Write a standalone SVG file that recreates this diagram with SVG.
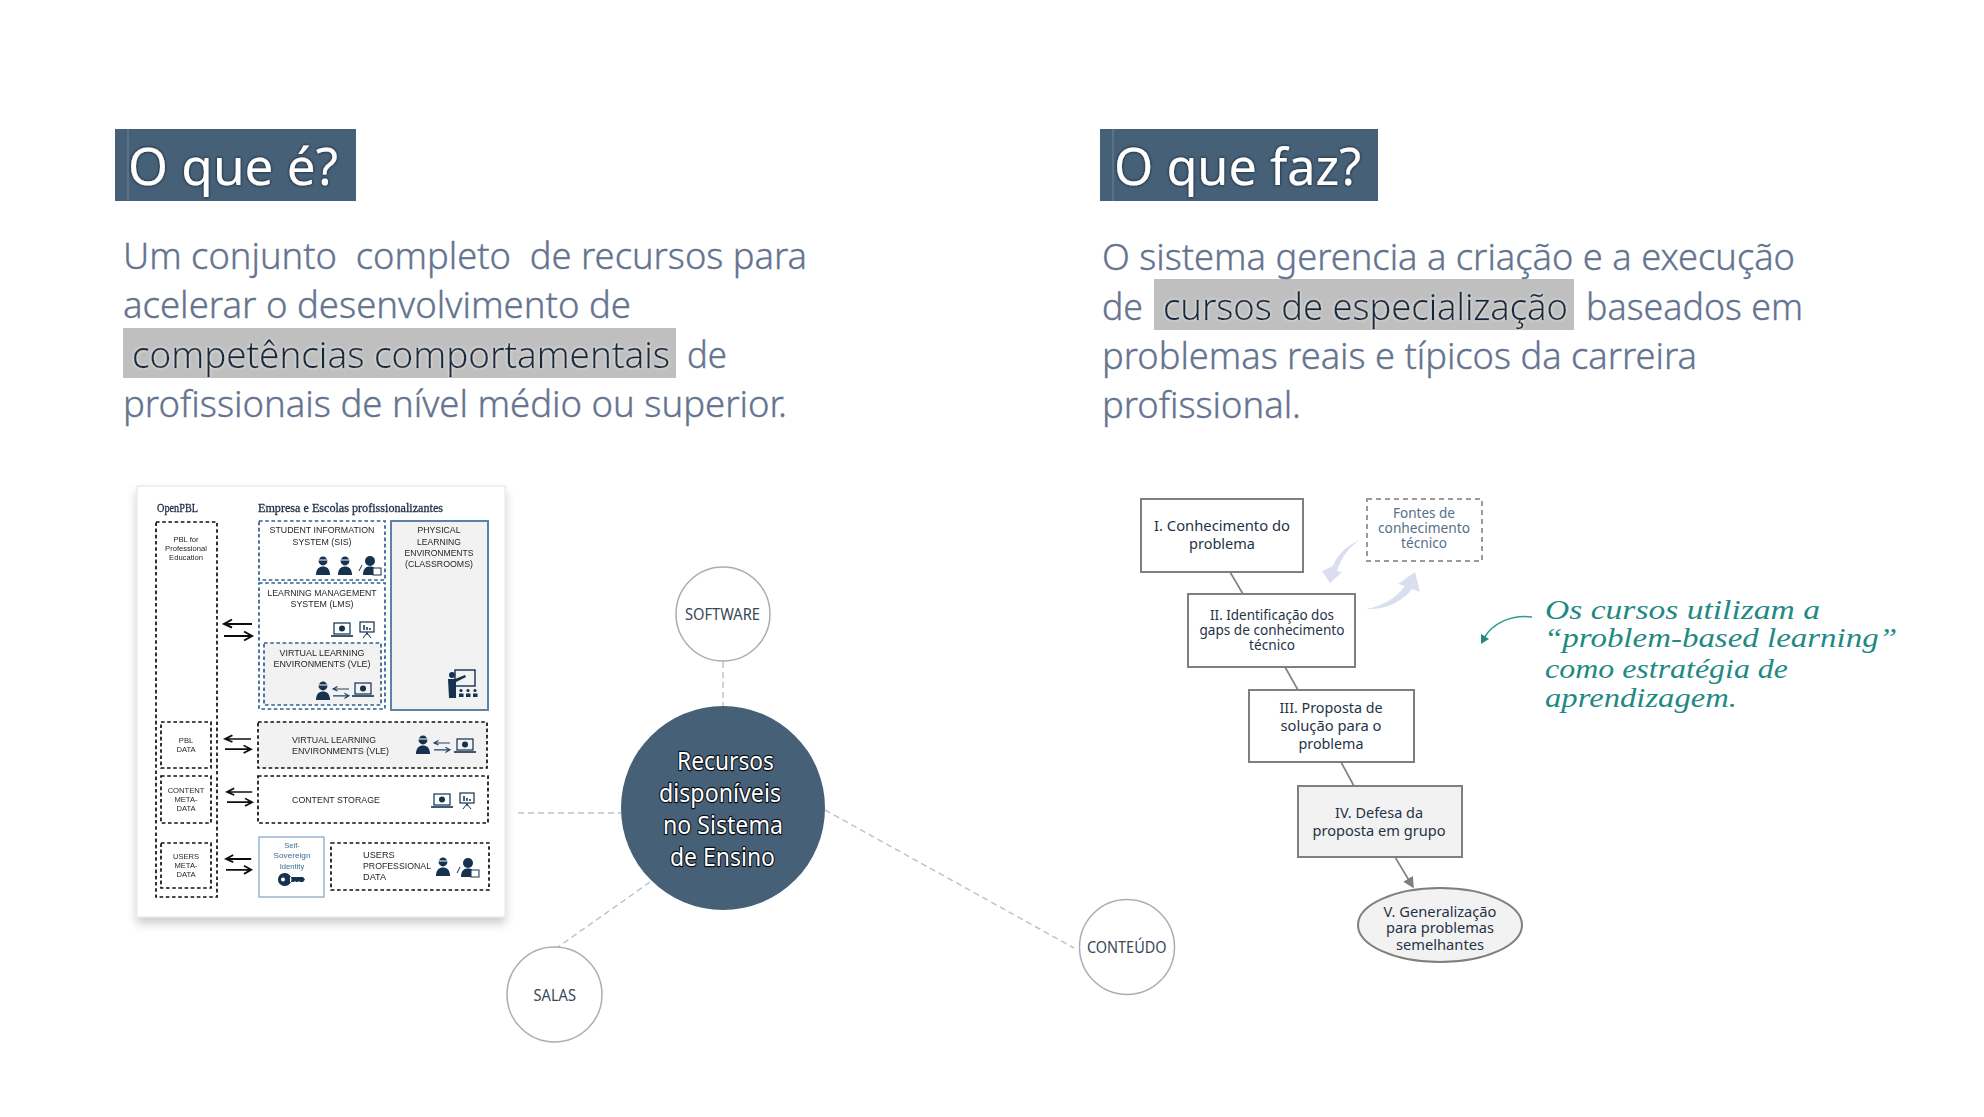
<svg xmlns="http://www.w3.org/2000/svg" xmlns:xlink="http://www.w3.org/1999/xlink" width="1984" height="1117" viewBox="0 0 1984 1117">
<style>
text{font-family:"Noto Sans","Open Sans","Liberation Sans",sans-serif}
.title{font-size:51px;fill:#fff;filter:url(#darkGlow)}
.body{font-size:36px;fill:#64738f;font-weight:300;stroke:#64738f;stroke-width:.35px}
.hl{font-size:36px;fill:#12293f;font-weight:300;filter:url(#lightGlow);stroke:#12293f;stroke-width:.3px}
.band{fill:#466078}
.tick{stroke:#6f8499;stroke-width:1;fill:none}
.mark{fill:#bfbfbf}
.sm{font-family:"Liberation Sans",Arial,sans-serif;font-size:9.2px;fill:#262626}
.xs{font-family:"Liberation Sans",Arial,sans-serif;font-size:7.6px;fill:#262626}
.serif{font-family:"Liberation Serif",serif;font-size:12px;fill:#1c2c44;stroke:#1c2c44;stroke-width:.3px}
.dk{fill:none;stroke:#111;stroke-width:1.7;stroke-dasharray:3.6 2.6}
.dkg{fill:#f2f2f2;stroke:#111;stroke-width:1.7;stroke-dasharray:3.6 2.6}
.bl{fill:none;stroke:#2f6190;stroke-width:1.7;stroke-dasharray:3.6 2.6}
.blg{fill:#f2f2f2;stroke:#2f6190;stroke-width:1.7;stroke-dasharray:3.6 2.6}
.ic{fill:#12304f}
.ico{fill:none;stroke:#12304f;stroke-width:1.2}
.sw{fill:none;stroke:#111;stroke-width:2}
.swb{fill:none;stroke:#1f4468;stroke-width:2}
.ring{fill:#fff;stroke:#a9aeb6;stroke-width:1.5}
.rl{font-size:15.5px;fill:#3a4757}
.mid{font-size:25.5px;fill:#fff;stroke:#0c1218;stroke-width:2.4px;paint-order:stroke;stroke-linejoin:round}
.dash{stroke:#bcc4cc;stroke-width:1.5;stroke-dasharray:6 4;fill:none}
.box{fill:#fff;stroke:#7f7f7f;stroke-width:2}
.boxg{fill:#f2f2f2;stroke:#7f7f7f;stroke-width:2}
.st{font-size:15px;fill:#1f3346}
.cn{stroke:#7f7f7f;stroke-width:1.6;fill:none}
.fc{font-size:15px;fill:#586f86}
.soft{fill:#d9dff0}
.note{font-family:"Liberation Serif",serif;font-style:italic;font-size:27px;fill:#1f8a83}
</style>
<defs>
<filter id="darkGlow" x="-10%" y="-20%" width="120%" height="140%"><feDropShadow dx="0" dy="0" stdDeviation="1.6" flood-color="#0a1724" flood-opacity="1"/></filter>
<filter id="lightGlow" x="-5%" y="-20%" width="110%" height="140%"><feDropShadow dx="0" dy="0" stdDeviation="1.4" flood-color="#ffffff" flood-opacity=".8"/></filter>
<filter id="cardShadow" x="-10%" y="-10%" width="120%" height="120%"><feDropShadow dx="0" dy="6" stdDeviation="5" flood-color="#000" flood-opacity=".2"/></filter>
<filter id="soften" x="-2%" y="-2%" width="104%" height="104%"><feGaussianBlur stdDeviation=".45"/></filter>
<marker id="gh" markerWidth="7" markerHeight="7" refX="6" refY="3.5" orient="auto"><path d="M0,0 L7,3.5 L0,7Z" fill="#7f7f7f"/></marker>
<g id="person"><circle cx="0" cy="-5" r="4.4" class="ic"/><path d="M-4.2,-6 H4.2" stroke="#fff" stroke-width="1"/><path d="M-7,9 C-7,2.5 -3.5,0.5 0,0.5 C3.5,0.5 7,2.5 7,9Z" class="ic"/></g>
<g id="teach"><circle cx="0" cy="-5" r="5" class="ic"/><path d="M-7,9 C-7,2 -3.5,0.5 0,0.5 C3.5,0.5 6,2 7,9Z" class="ic"/><path d="M-8,-1 L-11,5" stroke="#12304f" stroke-width="1"/><rect x="3" y="2" width="8" height="7" fill="#fff" stroke="#12304f"/></g>
<g id="laptop"><rect x="-8" y="-7" width="16" height="11" class="ico"/><circle cx="0" cy="-1.5" r="3" class="ic"/><path d="M-11,6 H11" stroke="#12304f" stroke-width="1.6"/></g>
<g id="pres"><rect x="-7" y="-7" width="14" height="10" class="ico"/><path d="M-3,1 V-4 M0,1 V-2 M3,1 V-1" stroke="#12304f" stroke-width="1.5"/><path d="M0,3 V6 M0,4 L-4,9 M0,4 L4,9" stroke="#12304f" stroke-width="1"/></g>
<g id="swap"><path d="M28,0 H0 M8,-4.5 L0,0 L8,3.5 M0,12 H28 M20,7.5 L28,12 L20,16.5"/></g>
</defs>
<rect width="1984" height="1117" fill="#fff"/>

<g id="title-what">
<rect class="band" x="115" y="129" width="241" height="72"/>
<path class="tick" d="M128,129 V201"/>
<text class="title" x="128" y="185" textLength="210" lengthAdjust="spacingAndGlyphs">O que é?</text>
</g>
<g id="text-what">
<rect class="mark" x="123" y="328" width="553" height="50"/>
<text class="body" x="123" y="269" textLength="684" lengthAdjust="spacingAndGlyphs" xml:space="preserve">Um conjunto  completo  de recursos para</text>
<text class="body" x="123" y="318" textLength="508" lengthAdjust="spacingAndGlyphs">acelerar o desenvolvimento de</text>
<text class="hl" x="132" y="368" textLength="538" lengthAdjust="spacingAndGlyphs">competências comportamentais</text>
<text class="body" x="687" y="368" textLength="40" lengthAdjust="spacingAndGlyphs">de</text>
<text class="body" x="123" y="417" textLength="664" lengthAdjust="spacingAndGlyphs">profissionais de nível médio ou superior.</text>
</g>
<g id="title-does">
<rect class="band" x="1100" y="129" width="278" height="72"/>
<path class="tick" d="M1113,129 V201"/>
<text class="title" x="1114" y="185" textLength="247" lengthAdjust="spacingAndGlyphs">O que faz?</text>
</g>
<g id="text-does">
<rect class="mark" x="1154" y="279" width="420" height="51"/>
<text class="body" x="1102" y="270" textLength="693" lengthAdjust="spacingAndGlyphs">O sistema gerencia a criação e a execução</text>
<text class="body" x="1102" y="320" textLength="41" lengthAdjust="spacingAndGlyphs">de</text>
<text class="hl" x="1163" y="320" textLength="405" lengthAdjust="spacingAndGlyphs">cursos de especialização</text>
<text class="body" x="1586" y="320" textLength="217" lengthAdjust="spacingAndGlyphs">baseados em</text>
<text class="body" x="1102" y="369" textLength="595" lengthAdjust="spacingAndGlyphs">problemas reais e típicos da carreira</text>
<text class="body" x="1102" y="418" textLength="199" lengthAdjust="spacingAndGlyphs">profissional.</text>
</g>

<g id="connectors">
<path class="dash" d="M723,662 V707"/>
<path class="dash" d="M518,813 H621"/>
<path class="dash" d="M825,810 L1074,948"/>
<path class="dash" d="M650,882 L558,947"/>
<path class="cn" d="M1230,572 L1243,594"/>
<path class="cn" d="M1285,667 L1298,690"/>
<path class="cn" d="M1341,762 L1354,786"/>
<path class="cn" d="M1395,857 L1413,887" marker-end="url(#gh)"/>
<path class="soft" d="M1360,540 C1348,545 1338,553 1333,566 L1322,571 L1330,583 L1342,572 L1337,571 C1341,558 1349,547 1360,540Z"/>
<path class="soft" d="M1366,609 C1383,606 1396,598 1405,586 L1398,584 L1415,572 L1420,592 L1412,589 C1402,602 1385,610 1366,609Z"/>
<path d="M1532,617 C1511,614 1492,624 1484,638" fill="none" stroke="#2f9a93" stroke-width="1.6"/>
<path d="M1481,644 L1481,634 L1489,639Z" fill="#1f8a83"/>
</g>

<g id="card">
<rect x="137" y="486" width="368" height="431" fill="#fff" stroke="#e2e2e2" stroke-width="1" filter="url(#cardShadow)"/>
<g filter="url(#soften)">
<text class="serif" x="157" y="512" textLength="41" lengthAdjust="spacingAndGlyphs">OpenPBL</text>
<text class="serif" x="258" y="512" textLength="185" lengthAdjust="spacingAndGlyphs">Empresa e Escolas profissionalizantes</text>

<g id="pbl-edu"><rect class="dk" x="156" y="522" width="61" height="375"/>
<text class="xs" text-anchor="middle" x="186" y="542">PBL for</text><text class="xs" text-anchor="middle" x="186" y="551">Professional</text><text class="xs" text-anchor="middle" x="186" y="560">Education</text></g>

<g id="sis"><rect class="bl" x="259" y="521" width="126" height="59"/>
<text class="sm" text-anchor="middle" x="322" y="533" textLength="105" lengthAdjust="spacingAndGlyphs">STUDENT INFORMATION</text>
<text class="sm" text-anchor="middle" x="322" y="545" textLength="59" lengthAdjust="spacingAndGlyphs">SYSTEM (SIS)</text>
<use href="#person" transform="translate(323,566)"/><use href="#person" transform="translate(345,566)"/><use href="#teach" transform="translate(370,566)"/></g>

<g id="lms"><rect class="bl" x="259" y="583" width="126" height="126"/>
<text class="sm" text-anchor="middle" x="322" y="596" textLength="109" lengthAdjust="spacingAndGlyphs">LEARNING MANAGEMENT</text>
<text class="sm" text-anchor="middle" x="322" y="607" textLength="63" lengthAdjust="spacingAndGlyphs">SYSTEM (LMS)</text>
<use href="#laptop" transform="translate(342,630)"/><use href="#pres" transform="translate(367,629)"/></g>

<g id="vle"><rect class="blg" x="264" y="643" width="117" height="62"/>
<text class="sm" text-anchor="middle" x="322" y="656" textLength="85" lengthAdjust="spacingAndGlyphs">VIRTUAL LEARNING</text>
<text class="sm" text-anchor="middle" x="322" y="667" textLength="97" lengthAdjust="spacingAndGlyphs">ENVIRONMENTS (VLE)</text>
<use href="#person" transform="translate(323,691)"/><use href="#swap" class="swb" transform="translate(333,689) scale(.57)"/><use href="#laptop" transform="translate(363,690)"/></g>

<g id="classrooms"><rect x="391" y="521" width="97" height="189" fill="#f2f2f2" stroke="#5b82a8" stroke-width="2"/>
<text class="sm" text-anchor="middle" x="439" y="533" textLength="43" lengthAdjust="spacingAndGlyphs">PHYSICAL</text>
<text class="sm" text-anchor="middle" x="439" y="544.5" textLength="44" lengthAdjust="spacingAndGlyphs">LEARNING</text>
<text class="sm" text-anchor="middle" x="439" y="556" textLength="69" lengthAdjust="spacingAndGlyphs">ENVIRONMENTS</text>
<text class="sm" text-anchor="middle" x="439" y="567" textLength="68" lengthAdjust="spacingAndGlyphs">(CLASSROOMS)</text>
<rect x="455" y="670" width="20" height="16" class="ico" style="stroke-width:1.4"/>
<circle cx="452" cy="675" r="3" class="ic"/><path d="M448,679 H455 L465,675 L466,677 L456,682 V698 H449Z" class="ic"/>
<circle cx="461" cy="690.5" r="1.6" class="ic"/><circle cx="468" cy="690.5" r="1.6" class="ic"/><circle cx="475" cy="690.5" r="1.6" class="ic"/>
<path d="M459,697 V693.5 H463.5 V697Z M466,697 V693.5 H470.5 V697Z M473,697 V693.5 H477.5 V697Z" class="ic"/></g>

<use href="#swap" class="sw" transform="translate(224,624)"/>

<g id="pbl-data"><rect class="dk" x="161" y="722" width="50" height="46"/>
<text class="xs" text-anchor="middle" x="186" y="743">PBL</text><text class="xs" text-anchor="middle" x="186" y="752">DATA</text></g>
<use href="#swap" class="sw" transform="translate(225,739) scale(.93,.85)"/>
<g id="vle-row"><rect class="dkg" x="258" y="722" width="229" height="46"/>
<text class="sm" x="292" y="743" textLength="84" lengthAdjust="spacingAndGlyphs">VIRTUAL LEARNING</text>
<text class="sm" x="292" y="754" textLength="97" lengthAdjust="spacingAndGlyphs">ENVIRONMENTS (VLE)</text>
<use href="#person" transform="translate(423,745)"/><use href="#swap" class="swb" transform="translate(434,743) scale(.57)"/><use href="#laptop" transform="translate(465,746)"/></g>

<g id="content-meta"><rect class="dk" x="161" y="776" width="50" height="47"/>
<text class="xs" text-anchor="middle" x="186" y="793">CONTENT</text><text class="xs" text-anchor="middle" x="186" y="802">META-</text><text class="xs" text-anchor="middle" x="186" y="811">DATA</text></g>
<use href="#swap" class="sw" transform="translate(227,792) scale(.9,.85)"/>
<g id="content-storage"><rect class="dk" x="258" y="776" width="230" height="47"/>
<text class="sm" x="292" y="803" textLength="88" lengthAdjust="spacingAndGlyphs">CONTENT STORAGE</text>
<use href="#laptop" transform="translate(442,801)"/><use href="#pres" transform="translate(467,800)"/></g>

<g id="users-meta"><rect class="dk" x="161" y="843" width="50" height="45"/>
<text class="xs" text-anchor="middle" x="186" y="859">USERS</text><text class="xs" text-anchor="middle" x="186" y="868">META-</text><text class="xs" text-anchor="middle" x="186" y="877">DATA</text></g>
<use href="#swap" class="sw" transform="translate(226,859) scale(.9,.9)"/>
<g id="ssi"><rect x="259" y="837" width="65" height="60" fill="#fff" stroke="#8fb0cf" stroke-width="1.4"/>
<text class="xs" style="fill:#3d6a92" text-anchor="middle" x="292" y="848">Self-</text><text class="xs" style="fill:#3d6a92" text-anchor="middle" x="292" y="858" textLength="37" lengthAdjust="spacingAndGlyphs">Sovereign</text><text class="xs" style="fill:#3d6a92" text-anchor="middle" x="292" y="869">Identity</text>
<path fill-rule="evenodd" class="ic" d="M285,873 a6.5,6.5 0 1 1 0,13 a5,5 0 0 1 -1,0 a6.5,6.5 0 0 1 1,-13Z M283,877.5 a2,2 0 1 0 0,4 a2,2 0 0 0 0,-4Z M290,877 H303 L305,879.5 L303,882 H300 L299,881 L298,882 H296 L295,881 L294,882 H290Z"/></g>
<g id="users-data"><rect class="dk" x="331" y="843" width="158" height="47"/>
<text class="sm" x="363" y="858">USERS</text><text class="sm" x="363" y="869" textLength="68" lengthAdjust="spacingAndGlyphs">PROFESSIONAL</text><text class="sm" x="363" y="880">DATA</text>
<use href="#person" transform="translate(443,867)"/><use href="#teach" transform="translate(468,868)"/></g>
</g>
</g>

<g id="node-software"><circle class="ring" cx="723" cy="614" r="47"/><text class="rl" x="685" y="620" textLength="75" lengthAdjust="spacingAndGlyphs">SOFTWARE</text></g>
<g id="node-center"><circle class="band" cx="723" cy="808" r="102"/>
<text class="mid" x="677" y="770" textLength="97" lengthAdjust="spacingAndGlyphs">Recursos</text>
<text class="mid" x="659" y="802" textLength="122" lengthAdjust="spacingAndGlyphs">disponíveis</text>
<text class="mid" x="663" y="834" textLength="120" lengthAdjust="spacingAndGlyphs">no Sistema</text>
<text class="mid" x="670" y="866" textLength="105" lengthAdjust="spacingAndGlyphs">de Ensino</text></g>
<g id="node-salas"><circle class="ring" cx="554.5" cy="994.5" r="47.5"/><text class="rl" x="533.5" y="1001" textLength="42.5" lengthAdjust="spacingAndGlyphs">SALAS</text></g>
<g id="node-conteudo"><circle class="ring" cx="1127" cy="947" r="47.5"/><text class="rl" x="1087" y="953" textLength="79.5" lengthAdjust="spacingAndGlyphs">CONTEÚDO</text></g>

<g id="step-1"><rect class="box" x="1141" y="499" width="162" height="73"/>
<text class="st" text-anchor="middle" x="1222" y="531" textLength="136" lengthAdjust="spacingAndGlyphs">I. Conhecimento do</text>
<text class="st" text-anchor="middle" x="1222" y="549" textLength="66" lengthAdjust="spacingAndGlyphs">problema</text></g>
<g id="step-2"><rect class="box" x="1188" y="594" width="167" height="73"/>
<text class="st" text-anchor="middle" x="1272" y="620" textLength="124" lengthAdjust="spacingAndGlyphs">II. Identificação dos</text>
<text class="st" text-anchor="middle" x="1272" y="635" textLength="145" lengthAdjust="spacingAndGlyphs">gaps de conhecimento</text>
<text class="st" text-anchor="middle" x="1272" y="650" textLength="46" lengthAdjust="spacingAndGlyphs">técnico</text></g>
<g id="step-3"><rect class="box" x="1249" y="690" width="165" height="72"/>
<text class="st" text-anchor="middle" x="1331" y="713" textLength="103" lengthAdjust="spacingAndGlyphs">III. Proposta de</text>
<text class="st" text-anchor="middle" x="1331" y="731" textLength="101" lengthAdjust="spacingAndGlyphs">solução para o</text>
<text class="st" text-anchor="middle" x="1331" y="749" textLength="65" lengthAdjust="spacingAndGlyphs">problema</text></g>
<g id="step-4"><rect class="boxg" x="1298" y="786" width="164" height="71"/>
<text class="st" text-anchor="middle" x="1379" y="818" textLength="88" lengthAdjust="spacingAndGlyphs">IV. Defesa da</text>
<text class="st" text-anchor="middle" x="1379" y="836" textLength="133" lengthAdjust="spacingAndGlyphs">proposta em grupo</text></g>
<g id="step-5"><ellipse class="boxg" cx="1440" cy="925" rx="82" ry="37"/>
<text class="st" text-anchor="middle" x="1440" y="917" textLength="113" lengthAdjust="spacingAndGlyphs">V. Generalização</text>
<text class="st" text-anchor="middle" x="1440" y="933" textLength="108" lengthAdjust="spacingAndGlyphs">para problemas</text>
<text class="st" text-anchor="middle" x="1440" y="950" textLength="88" lengthAdjust="spacingAndGlyphs">semelhantes</text></g>
<g id="sources"><rect x="1367" y="499" width="115" height="62" fill="#fff" stroke="#9a9a9a" stroke-width="2" stroke-dasharray="5 4"/>
<text class="fc" text-anchor="middle" x="1424" y="518" textLength="62" lengthAdjust="spacingAndGlyphs">Fontes de</text>
<text class="fc" text-anchor="middle" x="1424" y="533" textLength="92" lengthAdjust="spacingAndGlyphs">conhecimento</text>
<text class="fc" text-anchor="middle" x="1424" y="548" textLength="46" lengthAdjust="spacingAndGlyphs">técnico</text></g>
<g id="note">
<text class="note" x="1545" y="619" textLength="275" lengthAdjust="spacingAndGlyphs">Os cursos utilizam a</text>
<text class="note" x="1544" y="647" textLength="353" lengthAdjust="spacingAndGlyphs">“problem-based learning”</text>
<text class="note" x="1545" y="678" textLength="243" lengthAdjust="spacingAndGlyphs">como estratégia de</text>
<text class="note" x="1545" y="707" textLength="192" lengthAdjust="spacingAndGlyphs">aprendizagem.</text>
</g>
</svg>
